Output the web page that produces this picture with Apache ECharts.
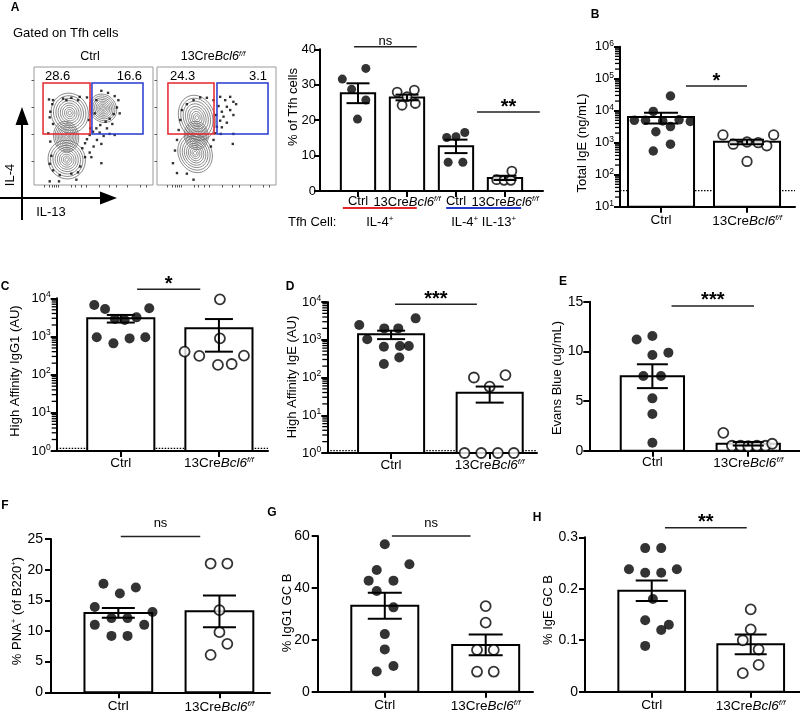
<!DOCTYPE html>
<html><head><meta charset="utf-8">
<script src="https://cdn.jsdelivr.net/npm/echarts@6/dist/echarts.min.js"></script>
<style>html,body{margin:0;padding:0;background:#fff}#c{width:800px;height:714px}</style>
</head><body><div id="c"></div>
<script>
const FONT = '"Liberation Sans", Arial, Helvetica, sans-serif';
const CRE = '13CreBcl6f/f';

// ================= DATA =================
// Panel A – flow cytometry plots (plot units 0–100 on both axes)
const flowSamples = ['Ctrl', CRE];
const flowGateNumbers = [['28.6', '16.6'], ['24.3', '3.1']];
const flowGatesCtrl = [[7.6, 47.1, 43.2, 86.4], [48.7, 91.6, 43.2, 86.4]];
const flowGatesCre = [[9.2, 47.9, 43.2, 86.4], [50.4, 93.3, 43.2, 86.4]];
// contour populations: [cx, cy, rx, ry, tilt deg]
const flowContoursCtrl = [[30.0, 61.0, 15.5, 17.0, -20], [58.0, 65.0, 11.0, 12.5, -35], [27.5, 21.5, 15.5, 16.5, -25], [27.0, 41.0, 10.5, 13.0, -10]];
const flowContoursCre = [[33.5, 57.0, 15.0, 19.5, -20], [32.0, 27.0, 14.0, 17.0, -25], [33.0, 42.0, 10.0, 12.0, -10]];
const flowDotsCtrl = [[12.6,72.5],[15.4,68.5],[13.7,62.1],[13.2,57.3],[16.0,51.7],[12.0,43.8],[13.7,36.8],[16.0,71.9],[24.4,73.3],[31.4,73.9],[38.4,74.7],[44.5,74.2],[56.6,79.8],[62.2,78.1],[67.8,75.3],[70.9,71.9],[69.7,65.7],[66.9,60.1],[63.6,56.2],[60.2,53.7],[55.7,50.8],[52.4,48.0],[49.6,45.2],[46.8,42.4],[44.5,38.8],[42.9,35.4],[40.6,31.2],[55.2,44.4],[61.3,48.0],[65.8,51.7],[52.9,38.2],[56.6,34.8],[58.5,41.6],[63.6,43.3],[50.1,32.6],[46.8,27.5],[42.9,23.6],[38.9,15.7],[37.0,10.7],[31.4,9.6],[21.6,8.4],[16.0,12.4],[13.2,18.0],[14.6,24.7],[48.2,23.6],[56.6,18.5],[47.3,48.0],[46.2,55.1],[51.0,60.7],[37.0,71.9],[27.2,71.9],[52.4,71.9],[72.0,60.7],[67.8,42.4],[35.6,4.5],[21.0,3.1],[13.2,3.1]];
const flowDotsCre = [[53.1,74.7],[57.3,71.9],[61.5,74.7],[64.2,70.5],[58.7,66.3],[54.5,62.1],[61.5,63.5],[64.2,59.3],[55.9,57.9],[53.1,54.5],[58.7,52.8],[54.5,48.9],[66.5,68.5],[50.3,49.4],[48.9,43.8],[53.6,43.3],[64.2,43.3],[47.5,38.2],[45.3,32.6],[20.9,63.5],[19.6,55.1],[18.2,46.6],[16.8,38.2],[15.1,29.2],[13.4,18.5],[16.8,10.1],[25.1,9.6],[30.7,4.5],[47.5,71.9],[41.9,73.9],[36.3,74.2],[30.7,71.9],[25.1,68.5],[63.7,34.8],[51.7,66.9],[49.7,59.3]];
const flowTicksX = [9, 13, 15, 17, 18.5, 20, 31, 35, 40, 44, 55, 63, 69, 78, 89, 94];
const flowTicksY = [20, 43, 66, 89];

// Panel A – bar chart (% of Tfh cells)
const aCategories = ['Ctrl', CRE, 'Ctrl', CRE];
const aGroups = ['IL-4⁺', 'IL-4⁺ IL-13⁺'];
const aTicks = [0, 10, 20, 30, 40];
const aMeans = [27.6, 26.4, 12.6, 3.7];
const aSem = [2.8, 0.8, 1.9, 0.6];
const aPoints = [[31.6, 34.6, 28.7, 25.7, 20.3], [27.9, 28.5, 26.6, 24.2, 24.7], [15.1, 16.5, 15.3, 8.1, 8.1], [3.2, 3.0, 3.0, 5.6]];
const aJitter = [[-0.32, 0.16, -0.13, 0.16, -0.01], [-0.2, 0.15, 0, -0.1, 0.17], [-0.19, 0.18, 0, -0.16, 0.14], [-0.17, -0.02, 0.12, 0.14]];
const aOpen = [false, true, false, true];
const aSig = [[0.92, 2.2, 40.7, 'ns'], [3.43, 4.71, 22.3, '**']];

const groups = ['Ctrl', CRE];
// Panel B – Total IgE (ng/mL)
const bTicks = [1e1, 1e2, 1e3, 1e4, 1e5, 1e6];
const bMeans = [6300, 1070];
const bSem = [2300, 170];
const bCtrl = [28800, 9500, 5000, 5000, 4800, 5200, 4600, 2200, 3200, 900, 550];
const bCtrlJit = [0.11, -0.09, -0.31, -0.18, 0.02, 0.21, 0.34, -0.06, 0.11, 0.11, -0.09];
const bCre = [1750, 1750, 900, 1050, 1000, 800, 260];
const bCreJit = [-0.28, 0.31, -0.16, 0, 0.13, 0.23, 0];
const bSig = [[1.29, 2.0, 59000, '*']];
const bLimit = 31.6;

// Panel C – High affinity IgG1 (AU)
const cTicks = [1e0, 1e1, 1e2, 1e3, 1e4];
const cMeans = [2990, 1630];
const cSem = [675, 1230];
const cCtrl = [6680, 5260, 5470, 2870, 2700, 3170, 950, 660, 890, 950];
const cCtrlJit = [-0.27, -0.16, 0.29, -0.06, 0.04, 0.16, -0.245, -0.075, 0.09, 0.25];
const cCre = [9400, 890, 400, 310, 180, 190, 315];
const cCreJit = [0.01, 0.01, -0.35, -0.2, -0.01, 0.13, 0.255];
const cSig = [[1.166, 1.81, 17200, '*']];
const cLimit = 1.17;

// Panel D – High affinity IgE (AU)
const dTicks = [1e0, 1e1, 1e2, 1e3, 1e4];
const dMeans = [1390, 39.6];
const dSem = [350, 18];
const dCtrl = [2450, 3690, 1030, 2000, 2000, 655, 684, 684, 340, 228];
const dCtrlJit = [-0.323, 0.249, -0.242, -0.069, 0.073, -0.073, 0.09, 0.18, 0.083, -0.073];
const dCre = [100, 116, 57, 0, 0, 0, 0];
const dCreJit = [-0.16, 0.16, 0, -0.255, -0.086, 0.083, 0.245];
const dSig = [[1.04, 1.87, 8700, '***']];
const dLimit = 1.15;

// Panel E – Evans Blue (ug/mL)
const eTicks = [0, 5, 10, 15];
const eMeans = [7.5, 0.7];
const eSem = [1.2, 0.18];
const eCtrl = [11.2, 11.55, 9.63, 9.87, 7.52, 7.52, 5.27, 3.69, 0.8];
const eCtrlJit = [-0.164, 0, 0, 0.167, -0.094, 0.09, 0, 0, 0];
const eCre = [1.8, 0.5, 0.5, 0.45, 0.5, 0.5, 0.7];
const eCreJit = [-0.26, -0.17, -0.08, 0, 0.09, 0.18, 0.25];
const eSig = [[1.2, 2.06, 14.57, '***']];

// Panel F – % PNA+ (of B220+)
const fTicks = [0, 5, 10, 15, 20, 25];
const fMeans = [12.95, 13.2];
const fSem = [0.8, 2.6];
const fCtrl = [17.7, 17.1, 16.1, 13.9, 13.1, 12.1, 12.1, 11.0, 11.0, 9.2, 9.2];
const fCtrlJit = [-0.147, 0.173, 0.015, -0.233, 0.338, -0.068, 0.091, -0.233, 0.256, -0.068, 0.091];
const fCre = [21.0, 21.0, 13.4, 9.8, 7.9, 6.1];
const fCreJit = [-0.087, 0.078, 0, 0, 0.078, -0.087];
const fSig = [[1.024, 1.81, 25.4, 'ns']];

// Panel G – % IgG1 GC B
const gTicks = [0, 20, 40, 60];
const gMeans = [33.1, 18.0];
const gSem = [5.0, 4.0];
const gCtrl = [56.8, 49.1, 46.9, 42.8, 42.8, 38.8, 32.5, 22.2, 16.3, 9.9, 7.8];
const gCtrlJit = [0, 0.244, -0.08, -0.16, 0.086, -0.08, 0.086, 0, 0, 0.086, -0.08];
const gCre = [33.0, 26.6, 16.1, 16.1, 7.7, 7.7];
const gCreJit = [0, 0, -0.086, 0.08, -0.086, 0.08];
const gSig = [[1.07, 1.85, 60.0, 'ns']];

// Panel H – % IgE GC B
const hTicks = [0, 0.1, 0.2, 0.3];
const hMeans = [0.196, 0.092];
const hSem = [0.02, 0.019];
const hCtrl = [0.279, 0.279, 0.238, 0.231, 0.231, 0.238, 0.18, 0.139, 0.13, 0.12, 0.089];
const hCtrlJit = [-0.066, 0.096, -0.23, -0.066, 0.096, 0.254, 0.012, -0.066, 0.173, 0.096, -0.066];
const hCre = [0.16, 0.121, 0.1, 0.082, 0.052, 0.036];
const hCreJit = [0, 0, -0.08, 0.08, 0.08, -0.08];
const hSig = [[1.134, 1.96, 0.3186, '**']];

// ================= LAYOUT / STYLE =================
const RED = '#e5252b', BLUE = '#2639cf';
const L = {
  A: {left: 320, top: 49.3, width: 223, height: 141.7, xMin: 0.2245, xMax: 4.776, half: 0.35, cap: 11.5, sym: 9, yMargin: 4, xMargin: 4, catFont: 13, nsOff: 5, starOff: 5, tickFont: 13},
  B: {left: 620, top: 46.7, width: 175, height: 160, xMin: 0.523, xMax: 2.558, half: 0.384, cap: 17, sym: 9.5, yMargin: 6, xMargin: 7, catFont: 13.5, nsOff: 13, starOff: 5, tickFont: 13},
  C: {left: 56.7, top: 298.3, width: 211.3, height: 152.7, xMin: 0.347, xMax: 2.5, half: 0.342, cap: 14, sym: 10, yMargin: 6, xMargin: 5, catFont: 13.5, nsOff: 13, starOff: 5, tickFont: 13},
  D: {left: 327.3, top: 302, width: 209.7, height: 151, xMin: 0.353, xMax: 2.48, half: 0.335, cap: 14, sym: 10, yMargin: 6, xMargin: 5, catFont: 13.5, nsOff: 13, starOff: 5, tickFont: 13},
  E: {left: 589.3, top: 301.7, width: 210.7, height: 149, xMin: 0.342, xMax: 2.54, half: 0.33, cap: 15.5, sym: 10, yMargin: 6, xMargin: 5, catFont: 13.5, nsOff: 13, starOff: 5, tickFont: 14},
  F: {left: 51, top: 539, width: 219, height: 155.3, xMin: 0.334, xMax: 2.5, half: 0.335, cap: 16.5, sym: 10, yMargin: 8, xMargin: 7, catFont: 13.5, nsOff: 13, starOff: 5, tickFont: 14},
  G: {left: 317.7, top: 536, width: 215.3, height: 155.7, xMin: 0.335, xMax: 2.469, half: 0.332, cap: 17, sym: 10, yMargin: 8, xMargin: 7, catFont: 13.5, nsOff: 13, starOff: 5, tickFont: 14},
  H: {left: 585, top: 537.3, width: 215, height: 154.4, xMin: 0.326, xMax: 2.498, half: 0.337, cap: 16, sym: 10, yMargin: 7, xMargin: 7, catFont: 13.5, nsOff: 13, starOff: 5, tickFont: 14}
};
const flowGrids = [{left: 34, top: 67, width: 119, height: 118}, {left: 157, top: 67, width: 119, height: 118}];
const aGroupSpans = [[0.69, 2.2], [2.8, 4.33]];
const CONTOUR_LEVELS = [1, 0.87, 0.74, 0.62, 0.5, 0.39, 0.28, 0.18, 0.09];
const LOG_MINOR_STEPS = [2, 3, 4, 5, 6, 7, 8, 9];

// ================= HELPERS =================
function richSup(s, key) {
  const k = key || 'n';
  return s.split('⁺').map((part, i, arr) => (part ? '{' + k + '|' + part + '}' : '') + (i < arr.length - 1 ? '{s|+}' : '')).join('');
}
function catText(c) { return c === CRE ? '{n|13Cre}{i|Bcl6}{s|f/f}' : '{n|' + c + '}'; }
function catRich(fs) {
  return {
    n: {fontSize: fs, fontFamily: FONT, color: '#000'},
    i: {fontSize: fs, fontFamily: FONT, fontStyle: 'italic', color: '#000'},
    s: {fontSize: fs * 0.6, fontFamily: FONT, fontStyle: 'italic', color: '#000', padding: [0, 0, fs * 0.55, 0]}
  };
}

const option = {animation: false, textStyle: {fontFamily: FONT}, grid: [], xAxis: [], yAxis: [], series: [], graphic: []};

function addBarPanel(lay, ticks, log, cats, means, sem, pts, jit, open, sig, limit) {
  const gi = option.grid.length;
  const yMin = ticks[0], yMax = ticks[ticks.length - 1];
  option.grid.push({left: lay.left, top: lay.top, width: lay.width, height: lay.height});
  const idx = cats.map((c, i) => i + 1);
  option.xAxis.push({
    type: 'value', gridIndex: gi, min: lay.xMin, max: lay.xMax,
    axisLine: {show: true, onZero: false, lineStyle: {color: '#000', width: 2}},
    axisTick: {show: true, customValues: idx, length: 6, lineStyle: {color: '#000', width: 2}},
    axisLabel: {show: true, customValues: idx, margin: lay.xMargin, formatter: v => catText(cats[Math.round(v) - 1]), rich: catRich(lay.catFont)},
    splitLine: {show: false}
  });
  const y = {
    gridIndex: gi, min: yMin, max: yMax,
    axisLine: {show: true, onZero: false, lineStyle: {color: '#000', width: 2}},
    axisTick: {show: true, length: 6, lineStyle: {color: '#000', width: 2}},
    splitLine: {show: false}
  };
  if (log) {
    y.type = 'log'; y.logBase = 10; y.splitNumber = ticks.length - 1;
    y.axisLabel = {margin: lay.yMargin, formatter: v => '{b|10}{s|' + Math.round(Math.log10(v)) + '}',
      rich: {b: {fontSize: lay.tickFont, fontFamily: FONT, color: '#000'}, s: {fontSize: 8.5, fontFamily: FONT, color: '#000', padding: [0, 0, 7, 0]}}};
  } else {
    y.type = 'value'; y.interval = ticks[1] - ticks[0];
    y.axisLabel = {margin: lay.yMargin, fontSize: lay.tickFont, color: '#000', fontFamily: FONT};
  }
  option.yAxis.push(y);
  const ax = {xAxisIndex: gi, yAxisIndex: gi, silent: true};
  // bars
  option.series.push(Object.assign({type: 'custom', z: 2, encode: {x: 0, y: 1},
    data: means.map((m, i) => [i + 1, m]),
    renderItem: (p, api) => {
      const x = api.value(0), v = api.value(1);
      const a = api.coord([x - lay.half, v]), b = api.coord([x + lay.half, yMin]);
      return {type: 'rect', shape: {x: a[0], y: a[1], width: b[0] - a[0], height: b[1] - a[1]}, style: {fill: '#fff', stroke: '#000', lineWidth: 2}};
    }}, ax));
  // limit of detection (dotted) + logarithmic minor ticks of the y axis
  if (limit !== undefined) {
    option.series.push(Object.assign({type: 'custom', z: 1, encode: {x: 0, y: 2},
      data: [[lay.xMin, lay.xMax, limit]],
      renderItem: (p, api) => {
        const a = api.coord([api.value(0), api.value(2)]), b = api.coord([api.value(1), api.value(2)]);
        const children = [{type: 'line', shape: {x1: a[0], y1: a[1], x2: b[0], y2: b[1]}, style: {stroke: '#000', lineWidth: 1.2, lineDash: [1.5, 1.5]}}];
        if (log) {
          ticks.slice(0, -1).forEach(dec => {
            LOG_MINOR_STEPS.forEach(k => {
              const c = api.coord([lay.xMin, dec * k]);
              children.push({type: 'line', shape: {x1: c[0] - 5, y1: c[1], x2: c[0], y2: c[1]}, style: {stroke: '#000', lineWidth: 1.3}});
            });
          });
        }
        return {type: 'group', children: children};
      }}, ax));
  }
  // points
  pts.forEach((vals, g) => {
    option.series.push(Object.assign({type: 'scatter', z: 3, symbol: 'circle', symbolSize: lay.sym,
      data: vals.map((v, k) => [g + 1 + jit[g][k], Math.max(v, yMin)]),
      itemStyle: open[g] ? {color: '#fff', borderColor: '#000', borderWidth: 1.8} : {color: '#000'}}, ax));
  });
  // error bars
  option.series.push(Object.assign({type: 'custom', z: 4, encode: {x: 0, y: 1},
    data: means.map((m, i) => [i + 1, m, sem[i]]),
    renderItem: (p, api) => {
      const x = api.value(0), m = api.value(1), s = api.value(2);
      const t = api.coord([x, m + s]), b = api.coord([x, Math.max(m - s, yMin)]);
      const st = {stroke: '#000', lineWidth: 2};
      return {type: 'group', children: [
        {type: 'line', shape: {x1: t[0], y1: t[1], x2: b[0], y2: b[1]}, style: st},
        {type: 'line', shape: {x1: t[0] - lay.cap, y1: t[1], x2: t[0] + lay.cap, y2: t[1]}, style: st},
        {type: 'line', shape: {x1: b[0] - lay.cap, y1: b[1], x2: b[0] + lay.cap, y2: b[1]}, style: st}
      ]};
    }}, ax));
  // significance
  option.series.push(Object.assign({type: 'custom', z: 4, encode: {x: 0, y: 2},
    data: sig.map(s => [s[0], s[1], s[2]]),
    renderItem: (p, api) => {
      const a = api.coord([api.value(0), api.value(2)]), b = api.coord([api.value(1), api.value(2)]);
      const lab = sig[p.dataIndex][3];
      const star = lab.indexOf('*') >= 0;
      return {type: 'group', children: [
        {type: 'line', shape: {x1: a[0], y1: a[1], x2: b[0], y2: b[1]}, style: {stroke: '#222', lineWidth: 1.4}},
        {type: 'text', x: (a[0] + b[0]) / 2, y: a[1] - (star ? lay.starOff : lay.nsOff),
          style: {text: lab, textAlign: 'center', textVerticalAlign: 'middle', font: star ? 'bold 20px ' + FONT : '13px ' + FONT, fill: '#000'}}
      ]};
    }}, ax));
  return gi;
}

// ---------- flow plots ----------
function addFlow(k, gates, contours, dots) {
  const gi = option.grid.length;
  const g = flowGrids[k];
  option.grid.push({left: g.left, top: g.top, width: g.width, height: g.height, show: true, borderColor: '#9a9a9a', borderWidth: 1, backgroundColor: '#fff'});
  const axBase = {type: 'value', gridIndex: gi, min: 0, max: 100, axisLine: {show: false}, axisLabel: {show: false}, splitLine: {show: false}};
  option.xAxis.push(Object.assign({}, axBase, {axisTick: {show: true, customValues: flowTicksX, length: 2.5, lineStyle: {color: '#555', width: 1}}}));
  option.yAxis.push(Object.assign({}, axBase, {axisTick: {show: true, customValues: flowTicksY, length: 2.5, lineStyle: {color: '#555', width: 1}}}));
  const ax = {xAxisIndex: gi, yAxisIndex: gi, silent: true};
  option.series.push(Object.assign({type: 'custom', z: 2, encode: {x: 0, y: 1},
    data: contours,
    renderItem: (p, api) => {
      const c = api.coord([api.value(0), api.value(1)]);
      const sx = api.size([api.value(2), 0])[0], sy = api.size([0, api.value(3)])[1];
      const tilt = api.value(4) * Math.PI / 180;
      const children = CONTOUR_LEVELS.map(lv => {
        const pts = [];
        for (let j = 0; j < 48; j++) {
          const t = j / 48 * 2 * Math.PI;
          const ex = Math.cos(t) * sx * lv, ey = Math.sin(t) * sy * lv;
          pts.push([c[0] + ex * Math.cos(tilt) - ey * Math.sin(tilt), c[1] + ex * Math.sin(tilt) + ey * Math.cos(tilt)]);
        }
        return {type: 'polygon', shape: {points: pts}, style: {fill: 'none', stroke: '#6a6a6a', lineWidth: 0.8}};
      });
      return {type: 'group', children: children};
    }}, ax));
  option.series.push(Object.assign({type: 'scatter', z: 3, symbol: 'rect', symbolSize: 2.4, data: dots, itemStyle: {color: '#000'}}, ax));
  option.series.push(Object.assign({type: 'custom', z: 4, encode: {x: 0, y: 2},
    data: gates,
    renderItem: (p, api) => {
      const a = api.coord([api.value(0), api.value(3)]), b = api.coord([api.value(1), api.value(2)]);
      const i = p.dataIndex;
      return {type: 'group', children: [
        {type: 'rect', shape: {x: a[0], y: a[1], width: b[0] - a[0], height: b[1] - a[1]}, style: {fill: 'none', stroke: i === 0 ? RED : BLUE, lineWidth: 1.5}},
        {type: 'text', x: i === 0 ? a[0] + 2 : b[0] - 1, y: a[1] - 0.5,
          style: {text: flowGateNumbers[k][i], textAlign: i === 0 ? 'left' : 'right', textVerticalAlign: 'bottom', font: '13px ' + FONT, fill: '#000'}}
      ]};
    }}, ax));
}

addFlow(0, flowGatesCtrl, flowContoursCtrl, flowDotsCtrl);
addFlow(1, flowGatesCre, flowContoursCre, flowDotsCre);

const giA = addBarPanel(L.A, aTicks, false, aCategories, aMeans, aSem, aPoints, aJitter, aOpen, aSig);
// group underlines and labels for panel A
option.series.push({type: 'custom', xAxisIndex: giA, yAxisIndex: giA, silent: true, z: 4, encode: {x: 0},
  data: aGroups.map((g, i) => [aGroupSpans[i][0], aGroupSpans[i][1], 0]),
  renderItem: (p, api) => {
    const a = api.coord([api.value(0), 0]), b = api.coord([api.value(1), 0]);
    const i = p.dataIndex;
    return {type: 'group', children: [
      {type: 'line', shape: {x1: a[0], y1: a[1] + 17, x2: b[0], y2: b[1] + 17}, style: {stroke: i === 0 ? RED : BLUE, lineWidth: 2.2}},
      {type: 'text', x: (a[0] + b[0]) / 2, y: a[1] + 31, style: {text: richSup(aGroups[i]), textAlign: 'center', textVerticalAlign: 'middle',
        rich: {n: {fontSize: 13, fontFamily: FONT, fill: '#000'}, s: {fontSize: 8, fontFamily: FONT, fill: '#000', padding: [0, 0, 7, 0]}}}}
    ]};
  }});

addBarPanel(L.B, bTicks, true, groups, bMeans, bSem, [bCtrl, bCre], [bCtrlJit, bCreJit], [false, true], bSig, bLimit);
addBarPanel(L.C, cTicks, true, groups, cMeans, cSem, [cCtrl, cCre], [cCtrlJit, cCreJit], [false, true], cSig, cLimit);
addBarPanel(L.D, dTicks, true, groups, dMeans, dSem, [dCtrl, dCre], [dCtrlJit, dCreJit], [false, true], dSig, dLimit);
addBarPanel(L.E, eTicks, false, groups, eMeans, eSem, [eCtrl, eCre], [eCtrlJit, eCreJit], [false, true], eSig);
addBarPanel(L.F, fTicks, false, groups, fMeans, fSem, [fCtrl, fCre], [fCtrlJit, fCreJit], [false, true], fSig);
addBarPanel(L.G, gTicks, false, groups, gMeans, gSem, [gCtrl, gCre], [gCtrlJit, gCreJit], [false, true], gSig);
addBarPanel(L.H, hTicks, false, groups, hMeans, hSem, [hCtrl, hCre], [hCtrlJit, hCreJit], [false, true], hSig);

// ---------- text decorations ----------
function txt(x, y, text, opts) {
  const o = opts || {};
  return {type: 'text', x: x, y: y, rotation: o.rot || 0, silent: true,
    style: {text: text, textAlign: o.align || 'center', textVerticalAlign: 'middle', font: (o.weight || '') + ' ' + (o.size || 13) + 'px ' + FONT, fill: '#000', rich: o.rich}};
}
const supRich = {n: {fontSize: 13, fontFamily: FONT, fill: '#000'}, s: {fontSize: 8, fontFamily: FONT, fill: '#000', padding: [0, 0, 7, 0]}};
const letters = [['A', 15, 8], ['B', 595, 15], ['C', 5, 287], ['D', 290, 287], ['E', 563, 282], ['F', 5, 506], ['G', 272, 513], ['H', 537, 518]];
letters.forEach(l => option.graphic.push(txt(l[1], l[2], l[0], {weight: 'bold', size: 12})));
const yTitles = [['% of Tfh cells', 293, 107], ['Total IgE (ng/mL)', 582, 143], ['High Affinity IgG1 (AU)', 15, 371], ['High Affinity IgE (AU)', 292, 377],
  ['Evans Blue (ug/mL)', 557, 378], ['% PNA⁺ (of B220⁺)', 17, 611], ['% IgG1 GC B', 287, 613], ['% IgE GC B', 548, 610]];
yTitles.forEach(t => option.graphic.push(txt(t[1], t[2], richSup(t[0]), {rot: Math.PI / 2, rich: supRich})));
option.graphic.push(txt(13, 33.5, 'Gated on Tfh cells', {align: 'left', size: 13}));
option.graphic.push(txt(90, 57, catText(flowSamples[0]), {rich: catRich(12.5)}));
option.graphic.push(txt(213, 57, catText(flowSamples[1]), {rich: catRich(12.5)}));
option.graphic.push(txt(288, 222, 'Tfh Cell:', {align: 'left', size: 13}));
option.graphic.push(txt(10, 175, 'IL-4', {rot: Math.PI / 2, size: 13}));
option.graphic.push(txt(51, 212, 'IL-13', {size: 13}));
option.graphic.push({type: 'line', silent: true, shape: {x1: 22, y1: 220, x2: 22, y2: 120}, style: {stroke: '#000', lineWidth: 2}});
option.graphic.push({type: 'polygon', silent: true, shape: {points: [[22, 107], [15.5, 125], [28.5, 125]]}, style: {fill: '#000'}});
option.graphic.push({type: 'line', silent: true, shape: {x1: 0, y1: 198, x2: 104, y2: 198}, style: {stroke: '#000', lineWidth: 2}});
option.graphic.push({type: 'polygon', silent: true, shape: {points: [[117, 198], [100, 191.5], [100, 204.5]]}, style: {fill: '#000'}});

const chart = echarts.init(document.getElementById('c'), null, {renderer: 'canvas'});
chart.setOption(option);
</script></body></html>
